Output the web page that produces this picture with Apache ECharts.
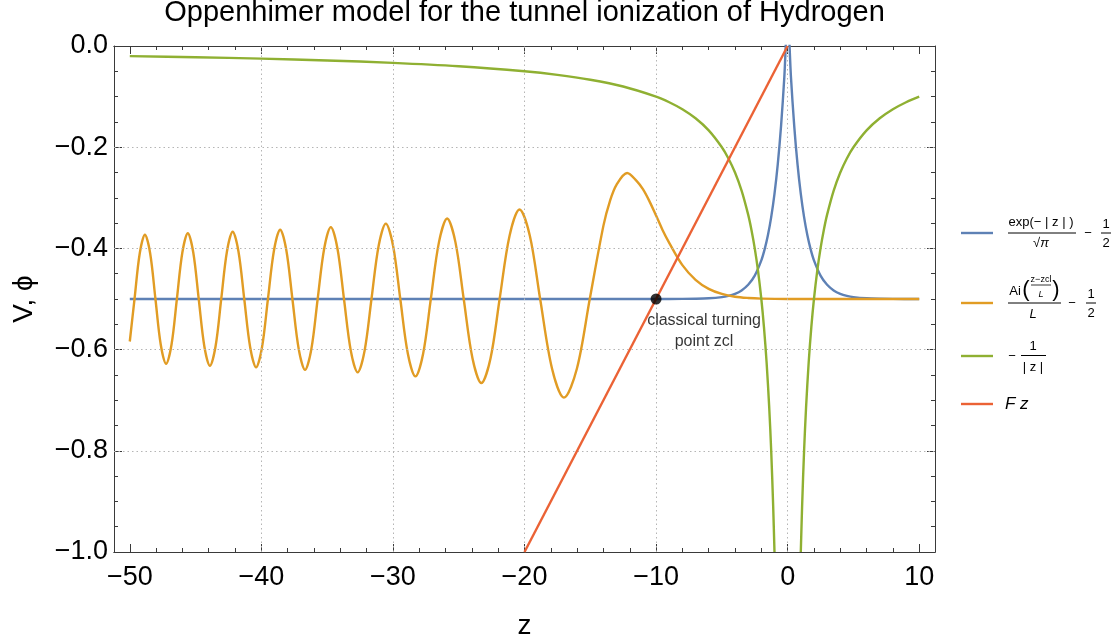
<!DOCTYPE html>
<html>
<head>
<meta charset="utf-8">
<script src="https://cdn.jsdelivr.net/npm/echarts@6/dist/echarts.min.js"></script>
<style>
html, body { margin: 0; padding: 0; background: #ffffff; }
#chart { width: 1120px; height: 643px; }
</style>
</head>
<body>
<div id="chart"></div>
<script>
// ---- curve samples (z, value) ----
// bound state  exp(-|z|)/sqrt(pi) - 1/2
const zPsi = [-50, -10, -8, -7, -6, -5, -4.5, -4, -3.5, -3, -2.5, -2, -1.75, -1.5, -1.25, -1, -0.75, -0.5, -0.25, 0,
              0.25, 0.5, 0.75, 1, 1.25, 1.5, 1.75, 2, 2.5, 3, 3.5, 4, 4.5, 5, 6, 7, 8, 10];
const vPsi = [-0.5, -0.5, -0.4998, -0.4995, -0.4986, -0.4962, -0.4937, -0.4897, -0.483, -0.4719, -0.4537, -0.4236, -0.4019, -0.3741, -0.3383, -0.2924, -0.2335, -0.1578, -0.0606, 0.0642,
              -0.0606, -0.1578, -0.2335, -0.2924, -0.3383, -0.3741, -0.4019, -0.4236, -0.4537, -0.4719, -0.483, -0.4897, -0.4937, -0.4962, -0.4986, -0.4995, -0.4998, -0.5];

// Airy wave  Ai((z - zcl)/L)/L - 1/2 : crossings of -1/2, half-way points, extrema, then the decaying tail
const zAiry = [-50, -49.64, -49.245, -48.85, -48.45, -48.05, -47.645, -47.24, -46.83, -46.42, -46.005, -45.59, -45.175,
               -44.76, -44.335, -43.91, -43.48, -43.05, -42.615, -42.18, -41.74, -41.30, -40.85, -40.40, -39.95,
               -39.50, -39.035, -38.57, -38.105, -37.64, -37.16, -36.68, -36.20, -35.72, -35.22, -34.72, -34.22,
               -33.72, -33.20, -32.68, -32.155, -31.63, -31.085, -30.54, -29.99, -29.44, -28.865, -28.29, -27.705,
               -27.12, -26.50, -25.88, -25.25, -24.62, -23.95, -23.28, -22.585, -21.89, -21.135, -20.38, -19.595,
               -18.81, -17.905, -17.00, -16.02, -15.04,
               -14.0, -13.5, -13.0, -12.2, -11.5, -11.0, -10.5, -10.0, -9.5, -9.0, -8.0, -7.0, -6.0, -5.0, -4.0, -3.0, -2.0, 0, 10];
const vAiry = [-0.584, -0.5, -0.410, -0.373, -0.410, -0.5, -0.5905, -0.628, -0.5905, -0.5, -0.408, -0.370, -0.408,
               -0.5, -0.5933, -0.632, -0.5933, -0.5, -0.406, -0.367, -0.406, -0.5, -0.5955, -0.635, -0.5955,
               -0.5, -0.4031, -0.363, -0.4031, -0.5, -0.599, -0.640, -0.599, -0.5, -0.3996, -0.358, -0.3996,
               -0.5, -0.6025, -0.645, -0.6025, -0.5, -0.3946, -0.351, -0.3946, -0.5, -0.6082, -0.653, -0.6082,
               -0.5, -0.3876, -0.341, -0.3876, -0.5, -0.6174, -0.666, -0.6174, -0.5, -0.3749, -0.323, -0.3749,
               -0.5, -0.6379, -0.695, -0.6379, -0.5,
               -0.355, -0.306, -0.274, -0.251, -0.266, -0.283, -0.307, -0.335, -0.364, -0.389, -0.433, -0.462, -0.480, -0.490, -0.4955, -0.498, -0.4992, -0.4999, -0.5];

// Coulomb potential  -1/|z|, one branch on each side of the nucleus
const zCoulL = [-50, -45, -40, -35, -30, -25, -20, -17.5, -15, -12.5, -10, -9, -8, -7, -6, -5, -4.5, -4, -3.5, -3, -2.75, -2.5, -2.25, -2, -1.8, -1.6, -1.4, -1.25, -1.1, -1];
const vCoulL = [-0.02, -0.0222, -0.025, -0.0286, -0.0333, -0.04, -0.05, -0.0571, -0.0667, -0.08, -0.1, -0.1111, -0.125, -0.1429, -0.1667, -0.2, -0.2222, -0.25, -0.2857, -0.3333, -0.3636, -0.4, -0.4444, -0.5, -0.5556, -0.625, -0.7143, -0.8, -0.9091, -1];
const zCoulR = [1, 1.1, 1.25, 1.4, 1.6, 1.8, 2, 2.25, 2.5, 2.75, 3, 3.5, 4, 4.5, 5, 6, 7, 8, 9, 10];
const vCoulR = [-1, -0.9091, -0.8, -0.7143, -0.625, -0.5556, -0.5, -0.4444, -0.4, -0.3636, -0.3333, -0.2857, -0.25, -0.2222, -0.2, -0.1667, -0.1429, -0.125, -0.1111, -0.1];

// field potential  F z
const zField = [-20, 0];
const vField = [-1, 0];

// classical turning point
const zTurn = [-10];
const vTurn = [-0.5];
const turnLabel = 'classical turning\npoint zcl';

// ---- axes ----
const xMajor = [-50, -40, -30, -20, -10, 0, 10];
const xMinor = [-48, -46, -44, -42, -38, -36, -34, -32, -28, -26, -24, -22, -18, -16, -14, -12, -8, -6, -4, -2, 2, 4, 6, 8];
const xGrid = [-40, -30, -20, -10, 0];
const yGrid = [-0.2, -0.4, -0.6, -0.8];

const titleText = 'Oppenhimer model for the tunnel ionization of Hydrogen';
const xName = 'z';
const yName = 'V, ϕ';

const C = { blue: '#5e81b5', orange: '#e19c24', green: '#8fb032', red: '#eb6235' };
const FONT = '"Liberation Sans", Arial, sans-serif';
const FRAME = '#3a3a3a';
const LW = 2.4;

const pairs = (zs, vs) => zs.map((z, i) => [z, vs[i]]);
const minus = s => String(s).replace('-', '\u2212');

function xAxisDef(pos, ticks, len, withLabels) {
  return {
    type: 'value', position: pos, min: -51.2, max: 11.2,
    axisLine: { show: true, onZero: false, lineStyle: { color: FRAME, width: 1 } },
    axisTick: { show: true, inside: true, length: len, customValues: ticks, lineStyle: { color: FRAME, width: 1 } },
    axisLabel: withLabels ? {
      show: true, customValues: ticks, margin: 12, color: '#000', fontSize: 27, fontFamily: FONT,
      formatter: v => minus(v)
    } : { show: false },
    splitLine: { show: false }
  };
}
function yAxisDef(pos, withLabels) {
  return {
    type: 'value', position: pos, min: -1, max: 0, interval: 0.2,
    axisLine: { show: true, onZero: false, lineStyle: { color: FRAME, width: 1 } },
    axisTick: { show: true, inside: true, length: 8, lineStyle: { color: FRAME, width: 1 } },
    minorTick: { show: true, splitNumber: 4, length: 4, lineStyle: { color: FRAME, width: 1 } },
    axisLabel: withLabels ? {
      show: true, margin: 6, color: '#000', fontSize: 27, fontFamily: FONT,
      formatter: v => Math.abs(v) < 1e-9 ? '0.0' : minus(v.toFixed(1))
    } : { show: false },
    splitLine: { show: false }, minorSplitLine: { show: false }
  };
}

const xAxes = [
  Object.assign(xAxisDef('bottom', xMajor, 8, true), {
    name: xName, nameLocation: 'middle', nameGap: 60,
    nameTextStyle: { fontSize: 28, fontFamily: FONT, color: '#000' }
  }),
  xAxisDef('bottom', xMinor, 4, false),
  xAxisDef('top', xMajor, 8, false),
  xAxisDef('top', xMinor, 4, false)
];
const yAxes = [
  Object.assign(yAxisDef('left', true), {
    name: yName, nameLocation: 'middle', nameGap: 76,
    nameTextStyle: { fontSize: 28, fontFamily: FONT, color: '#000' }
  }),
  yAxisDef('right', false)
];

// ---- legend drawn as formula text ----
function txt(x, y, text, size, extra) {
  return {
    type: 'text', x: x, y: y, silent: true,
    style: Object.assign({ text: text, fill: '#000', font: size + 'px ' + FONT, textAlign: 'center', textVerticalAlign: 'middle' }, extra || {})
  };
}
function seg(x1, y1, x2, y2, color, w) {
  return { type: 'line', silent: true, shape: { x1: x1, y1: y1, x2: x2, y2: y2 }, style: { stroke: color, lineWidth: w } };
}
const legendItems = [
  // exp(-|z|)/sqrt(pi) - 1/2
  seg(961, 233, 993, 233, C.blue, LW),
  txt(1041, 222.5, 'exp(\u2212 | z | )', 13),
  seg(1008, 233, 1076, 233, '#000', 1),
  txt(1041, 243, '\u221A\u03C0', 13, { font: 'italic 13px ' + FONT }),
  txt(1088, 233, '\u2212', 13),
  txt(1106, 224, '1', 13),
  seg(1101, 233, 1111, 233, '#000', 1),
  txt(1106, 243, '2', 13),
  // Ai((z-zcl)/L)/L - 1/2
  seg(961, 303, 993, 303, C.orange, LW),
  txt(1015, 291, 'Ai', 13),
  txt(1026, 290, '(', 20, { font: '100 22px ' + FONT }),
  txt(1041, 280, 'z\u2212zcl', 9),
  seg(1031, 285, 1051, 285, '#000', 0.8),
  txt(1041, 294, 'L', 9, { font: 'italic 9px ' + FONT }),
  txt(1056, 290, ')', 20, { font: '100 22px ' + FONT }),
  seg(1008, 303, 1061, 303, '#000', 1),
  txt(1033, 314, 'L', 13, { font: 'italic 13px ' + FONT }),
  txt(1072, 303, '\u2212', 13),
  txt(1091, 294, '1', 13),
  seg(1086, 303, 1096, 303, '#000', 1),
  txt(1091, 313, '2', 13),
  // -1/|z|
  seg(961, 356, 993, 356, C.green, LW),
  txt(1012, 356, '\u2212', 13),
  txt(1033, 346, '1', 13),
  seg(1021, 355.5, 1046, 355.5, '#000', 1),
  txt(1033, 367, '| z |', 13),
  // F z
  seg(961, 404, 993, 404, C.red, LW),
  txt(1005, 404, 'F z', 17, { font: 'italic 17px ' + FONT, textAlign: 'left' })
];

const chart = echarts.init(document.getElementById('chart'), null, { renderer: 'canvas' });

const lineSeries = (name, data, color, smooth, z) => ({
  name: name, type: 'line', data: data, xAxisIndex: 0, yAxisIndex: 0,
  showSymbol: false, symbol: 'none', smooth: smooth, clip: true, z: z,
  lineStyle: { color: color, width: LW }, emphasis: { disabled: true }, silent: true
});

chart.setOption({
  animation: false,
  backgroundColor: '#ffffff',
  grid: { left: 114, top: 46, width: 821, height: 506, containLabel: false, outerBoundsMode: 'none' },
  xAxis: xAxes,
  yAxis: yAxes,
  graphic: [
    txt(524.5, 13, titleText, 29)
  ].concat(legendItems),
  series: [
    {
      type: 'line', data: [], xAxisIndex: 0, yAxisIndex: 0, silent: true, z: 1,
      markLine: {
        silent: true, symbol: ['none', 'none'], label: { show: false },
        lineStyle: { color: '#b5b5b5', width: 1, type: [1.5, 3] },
        emphasis: { disabled: true },
        data: xGrid.map(v => ({ xAxis: v })).concat(yGrid.map(v => ({ yAxis: v })))
      }
    },
    lineSeries('psi', pairs(zPsi, vPsi), C.blue, 0.3, 3),
    lineSeries('airy', pairs(zAiry, vAiry), C.orange, 0.33, 4),
    lineSeries('coulombL', pairs(zCoulL, vCoulL), C.green, 0.3, 5),
    lineSeries('coulombR', pairs(zCoulR, vCoulR), C.green, 0.3, 5),
    lineSeries('field', pairs(zField, vField), C.red, false, 6),
    {
      name: 'turning', type: 'scatter', data: pairs(zTurn, vTurn), xAxisIndex: 0, yAxisIndex: 0,
      symbol: 'circle', symbolSize: 11, z: 8, silent: true,
      itemStyle: { color: '#000' },
      label: {
        show: true, position: 'bottom', distance: 5, offset: [48, 1],
        formatter: turnLabel, color: '#000', fontSize: 16, lineHeight: 21, fontFamily: FONT, align: 'center'
      }
    }
  ]
});
</script>
</body>
</html>
